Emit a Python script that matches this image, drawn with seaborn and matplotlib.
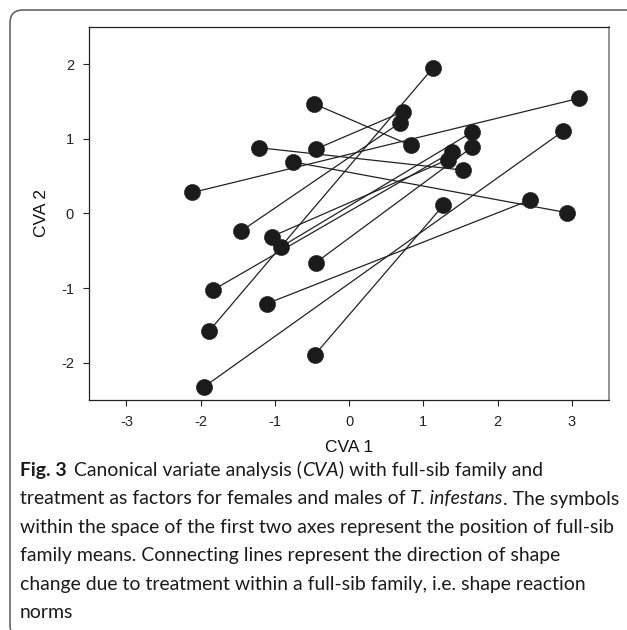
import matplotlib
matplotlib.use("Agg")
import matplotlib.pyplot as plt
import matplotlib.transforms as mtransforms
from matplotlib.patches import FancyBboxPatch
import pandas as pd
import seaborn as sns

# family means for the two treatments (CVA scores), one entry per full-sib family
families = list(range(1, 15))
cva1_t1 = [-0.48, -1.22, -0.76, -2.11, -1.11, -0.46, -1.95, -0.45, -1.46, -1.89, -1.04, -0.45, -1.84, -0.92]
cva2_t1 = [1.47, 0.88, 0.69, 0.28, -1.21, -1.89, -2.32, 0.86, -0.24, -1.58, -0.31, -0.66, -1.03, -0.45]
cva1_t2 = [0.83, 1.53, 2.93, 3.09, 2.44, 1.27, 2.88, 0.72, 0.68, 1.13, 1.33, 1.66, 1.38, 1.66]
cva2_t2 = [0.91, 0.58, 0.01, 1.54, 0.18, 0.11, 1.10, 1.36, 1.21, 1.95, 0.72, 0.89, 0.82, 1.09]

xticks = [-3, -2, -1, 0, 1, 2, 3]
yticks = [-2, -1, 0, 1, 2]

df = pd.concat([
    pd.DataFrame({'family': families, 'cva1': cva1_t1, 'cva2': cva2_t1, 'treatment': 1}),
    pd.DataFrame({'family': families, 'cva1': cva1_t2, 'cva2': cva2_t2, 'treatment': 2}),
]).sort_values(['family', 'treatment'])

sns.set_style("ticks")
plt.rcParams['font.family'] = ['Liberation Sans', 'DejaVu Sans']
plt.rcParams['axes.unicode_minus'] = False

fig = plt.figure(figsize=(6.27, 6.30), dpi=100)
ax = fig.add_axes([0.1424, 0.365, 0.8289, 0.5926])

# reaction norms
sns.lineplot(data=df, x='cva1', y='cva2', units='family', estimator=None,
             sort=False, color='#222222', lw=0.9, ax=ax, legend=False)
# family means
sns.scatterplot(data=df, x='cva1', y='cva2', s=135, color='#1b1b1b',
                edgecolor='#1b1b1b', linewidth=0.4, ax=ax, zorder=3, legend=False)

ax.set_xlim(-3.5, 3.5)
ax.set_ylim(-2.5, 2.5)
ax.set_xticks(xticks)
ax.set_yticks(yticks)
ax.set_xticklabels([str(t) for t in xticks])
ax.set_yticklabels([str(t) for t in yticks])
ax.tick_params(direction='out', length=4, width=0.8, labelsize=10.5, colors='#222222', pad=7)
ax.set_xlabel('CVA 1', fontsize=12.5, labelpad=8, color='#111111')
ax.set_ylabel('CVA 2', fontsize=12.5, labelpad=9, color='#111111')
for side in ['left', 'bottom', 'top']:
    ax.spines[side].set_color('#222222')
    ax.spines[side].set_linewidth(0.9)
ax.spines['right'].set_color('#777777')
ax.spines['right'].set_linewidth(1.1)

# rounded frame around the figure panel
frame = FancyBboxPatch((10, -8), 700, 628, boxstyle="round,pad=0,rounding_size=13",
                       transform=mtransforms.IdentityTransform(),
                       facecolor='none', edgecolor='#666666', lw=1.2)
fig.patches.append(frame)

# caption, written as runs of differently styled text
cap_font = ['Lato', 'DejaVu Sans']
cap_size = 13.95
cap_color = '#1a1a1a'
caption = [
    [('Fig. 3', 'normal', 'bold', 0), ('Canonical variate analysis (', 'normal', 'normal', 5.5),
     ('CVA', 'italic', 'normal', 0), (') with full-sib family and', 'normal', 'normal', 0)],
    [('treatment as factors for females and males of', 'normal', 'normal', 0),
     ('T. infestans', 'italic', 'normal', 3.5), ('. The symbols', 'normal', 'normal', 0)],
    [('within the space of the first two axes represent the position of full-sib', 'normal', 'normal', 0)],
    [('family means. Connecting lines represent the direction of shape', 'normal', 'normal', 0)],
    [('change due to treatment within a full-sib family, i.e. shape reaction', 'normal', 'normal', 0)],
    [('norms', 'normal', 'normal', 0)],
]
baselines = [476, 504.5, 533, 561.5, 590, 618]

for yb, runs in zip(baselines, caption):
    prev = None
    for text, style, weight, gap in runs:
        if prev is None:
            prev = fig.text(20 / 627, 1 - yb / 630, text, ha='left', va='baseline',
                            family=cap_font, fontsize=cap_size, style=style,
                            weight=weight, color=cap_color)
        else:
            prev = ax.annotate(text, xy=(1, 0), xycoords=prev, xytext=(gap, 0),
                               textcoords='offset points', ha='left', va='bottom',
                               family=cap_font, fontsize=cap_size, style=style,
                               weight=weight, color=cap_color, annotation_clip=False)

fig.savefig('out.png', dpi=100)
